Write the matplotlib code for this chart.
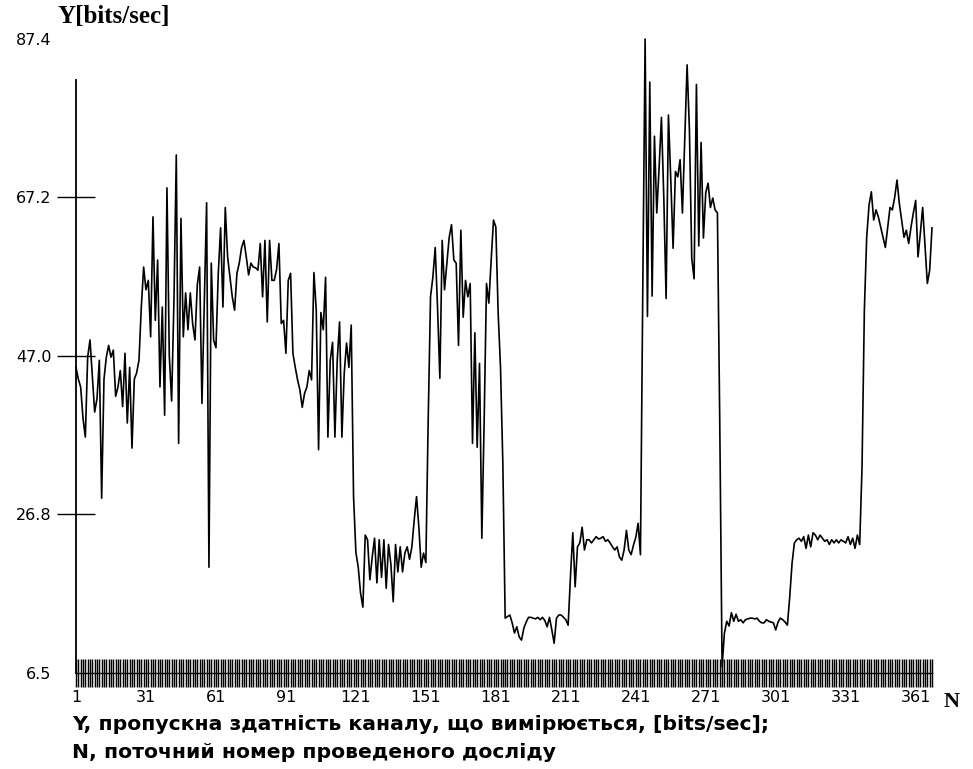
import numpy as np
import matplotlib.pyplot as plt

# measured throughput, split by phase of the experiment (N = 1..368)
seg_a = [45.5, 44.0, 43.0, 39.0, 36.6, 46.8, 49.0, 44.3, 39.8, 41.5, 46.4, 28.8, 44.0, 46.8,
         48.3, 46.8, 47.7, 41.8, 43.0, 45.1, 40.5, 47.3, 38.4, 45.5, 35.2, 44.0, 44.8, 46.4]
seg_b = [53.2, 58.3, 55.4, 56.6, 49.4, 64.7, 51.5, 59.2, 43.0, 53.2, 39.4, 68.4, 47.0, 41.2,
         54.1, 72.6, 35.8, 64.5, 49.4, 55.0, 50.3, 55.0, 51.1, 49.0, 56.0, 58.3, 40.9, 53.7,
         66.5, 20.0, 58.8]
seg_c = [49.0, 48.0, 57.5, 63.3, 53.2, 65.9, 59.6, 57.0, 54.5, 52.8, 57.5, 58.8, 60.8, 61.7,
         59.6, 57.3, 58.8, 58.3, 58.2, 57.9, 61.3, 54.5, 61.7, 51.3, 61.7, 56.6, 56.6, 58.0,
         61.3, 51.1, 51.5, 47.3, 56.6, 57.5, 47.3, 45.5, 43.9, 42.6, 40.4, 42.2, 43.0, 45.1,
         43.9, 57.6, 52.8, 35.0, 52.5, 50.3, 57.0, 36.6, 46.4, 48.7, 36.6, 46.4, 51.3, 36.6,
         44.8, 48.6, 45.5, 50.9]
seg_d = [29.0, 21.9, 20.0, 16.7, 14.9, 24.1, 23.5, 18.4, 21.3, 23.7, 18.0, 23.5, 18.7, 23.5,
         17.3, 22.9, 20.4, 15.6, 22.9, 19.4, 22.6, 19.4, 21.8, 22.6, 21.0, 22.6, 26.0, 29.0,
         25.1, 20.0, 21.8, 20.6]
seg_e = [38.8, 54.5, 57.0, 60.8, 53.2, 44.1, 61.7, 55.4, 58.8, 62.1, 63.7, 59.2, 58.8, 48.3,
         63.0, 51.9, 56.6, 54.5, 56.2, 35.8, 49.9, 35.3, 46.0, 23.7, 38.8, 56.2, 53.7, 59.2,
         64.3, 63.4, 52.4, 45.5, 33.3]
seg_f = [13.5, 13.7, 13.9, 12.9, 11.6, 12.4, 11.1, 10.7, 12.2, 13.0, 13.6, 13.6, 13.5, 13.4,
         13.6, 13.3, 13.6, 13.2, 12.4, 13.6, 12.0, 10.3, 13.5, 13.9, 13.9, 13.6, 13.3, 12.6]
seg_g = [18.8, 24.4, 17.5, 22.6, 23.1, 25.1, 22.2, 23.5, 23.5, 23.1, 23.5, 23.9, 23.6, 23.7,
         23.9, 23.3, 23.5, 23.1, 22.6, 22.2, 22.6, 21.3, 20.9, 22.2, 24.7, 22.2, 21.6, 22.8,
         23.8, 25.6, 21.6, 55.5]
seg_h = [87.4, 52.0, 81.9, 54.6, 75.0, 65.2, 71.0, 77.4, 67.3, 54.3, 77.7, 69.5, 60.7, 70.5,
         69.8, 72.0, 65.2, 74.8, 84.1, 75.8, 59.4, 56.8, 81.6, 61.0, 74.2, 62.0, 67.8, 69.0,
         65.9, 67.1, 65.6, 65.2, 38.6, 7.3]
seg_i = [11.6, 13.1, 12.5, 14.2, 13.1, 14.0, 13.1, 13.3, 12.9, 13.3, 13.4, 13.5, 13.5, 13.4,
         13.5, 13.1, 12.9, 12.9, 13.3, 13.1, 13.0, 12.9, 12.0, 13.0, 13.5, 13.3, 13.0, 12.6, 16.2]
seg_j = [20.5, 23.1, 23.5, 23.7, 23.3, 23.9, 22.4, 24.1, 22.6, 24.4, 24.1, 23.5, 24.1, 23.7,
         23.3, 23.5, 22.9, 23.5, 23.1, 23.5, 23.1, 23.5, 23.3, 23.1, 23.9, 22.9, 23.7, 22.4,
         24.1, 22.9, 32.8]
seg_k = [52.8, 62.1, 66.2, 67.9, 64.3, 65.6, 64.7, 63.4, 62.1, 60.8, 63.4, 65.9, 65.6, 67.2,
         69.4, 66.4, 64.3, 62.1, 63.0, 61.3, 63.4, 65.2, 66.8, 59.6, 62.6, 65.9, 61.0, 56.2,
         57.9, 63.3]

y_ticks = [6.5, 26.8, 47.0, 67.2, 87.4]
x_ticks = [1, 31, 61, 91, 121, 151, 181, 211, 241, 271, 301, 331, 361]

y = np.array(seg_a + seg_b + seg_c + seg_d + seg_e + seg_f + seg_g + seg_h + seg_i + seg_j + seg_k)
n = np.arange(1, len(y) + 1)

fig = plt.figure(figsize=(9.73, 7.69), dpi=100)
ax = fig.add_axes([76 / 973, 96 / 769, 856 / 973, 634 / 769])

ax.plot(n, y, color='black', lw=1.2, clip_on=False, zorder=3)

ax.set_xlim(1, len(y))
ax.set_ylim(6.5, 87.4)

for side in ['top', 'right']:
    ax.spines[side].set_visible(False)
ax.spines['left'].set_bounds(6.5, 82.2)
ax.spines['left'].set_linewidth(1.3)
ax.spines['bottom'].set_linewidth(1.0)

# comb of ticks, one per experiment
ax.set_xticks(x_ticks)
ax.set_xticks(n, minor=True)
ax.tick_params(axis='x', which='both', direction='inout', length=20, width=1.05,
               color='black', pad=2, labelsize=11.5)
ax.set_xticklabels([str(v) for v in x_ticks])

ax.set_yticks(y_ticks)
ax.set_yticklabels([f'{v:.1f}' for v in y_ticks])
ax.tick_params(axis='y', direction='inout', length=27, width=1.0, color='black',
               pad=4, labelsize=11.5)
yt = ax.yaxis.get_major_ticks()
yt[0].tick1line.set_visible(False)
yt[-1].tick1line.set_visible(False)

fig.text(58 / 973, 1 - 17 / 769, 'Y[bits/sec]', family='Liberation Serif', weight='bold',
         fontsize=18, ha='left', va='center')
fig.text(944 / 973, 1 - 702 / 769, 'N', family='Liberation Serif', weight='bold',
         fontsize=16, ha='left', va='center')

fig.text(72 / 973, 1 - 724 / 769, 'Y, пропускна здатність каналу, що вимірюється, [bits/sec];',
         family='DejaVu Sans', weight='bold', fontsize=14.7, ha='left', va='center')
fig.text(72 / 973, 1 - 752 / 769, 'N, поточний номер проведеного досліду',
         family='DejaVu Sans', weight='bold', fontsize=14.7, ha='left', va='center')

fig.savefig('out.png', dpi=100, facecolor='white')
